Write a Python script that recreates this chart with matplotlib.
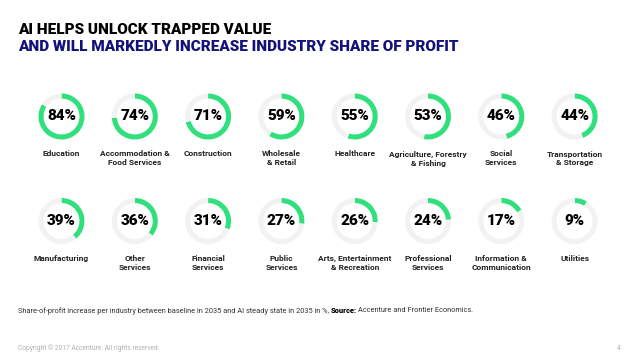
import matplotlib
matplotlib.use("Agg")
import matplotlib.pyplot as plt

industries = [
    "Education", "Accommodation &\nFood Services", "Construction", "Wholesale\n& Retail",
    "Healthcare", "Agriculture, Forestry\n& Fishing", "Social\nServices", "Transportation\n& Storage",
    "Manufacturing", "Other\nServices", "Financial\nServices", "Public\nServices",
    "Arts, Entertainment\n& Recreation", "Professional\nServices", "Information &\nCommunication", "Utilities",
]
profit_increase = [84, 74, 71, 59, 55, 53, 46, 44, 39, 36, 31, 27, 26, 24, 17, 9]

GREEN = "#2fe07c"
GREY = "#f2f2f2"
NAVY = "#14127a"

W, H = 638, 359
fig = plt.figure(figsize=(W / 100, H / 100), dpi=100)
fig.patch.set_facecolor("white")

# title
fig.text(18 / W, 1 - 30 / H, "AI HELPS UNLOCK TRAPPED VALUE", fontsize=11,
         fontweight="heavy", family="Roboto", color="black", va="center")
fig.text(18 / W, 1 - 47 / H, "AND WILL MARKEDLY INCREASE INDUSTRY SHARE OF PROFIT", fontsize=11,
         fontweight="heavy", family="Roboto", color=NAVY, va="center")

# donuts
col_x0, col_step = 61.5, 73.3
row_y = [116.5, 221]
label_y = [150.5, 255]
r = 23
for i, (name, v) in enumerate(zip(industries, profit_increase)):
    row, col = divmod(i, 8)
    cx = col_x0 + col * col_step
    cy = row_y[row]
    ax = fig.add_axes([(cx - r) / W, 1 - (cy + r) / H, 2 * r / W, 2 * r / H])
    ax.pie([v, 100 - v], colors=[GREEN, GREY], startangle=90, counterclock=False,
           radius=1, wedgeprops=dict(width=0.22, linewidth=0))
    ax.set_xlim(-1, 1)
    ax.set_ylim(-1, 1)
    ax.text(0, 0, f"{v}%", ha="center", va="center", fontsize=11,
            fontweight="heavy", family="Roboto", color="black")
    fig.text(cx / W, 1 - label_y[row] / H, name, ha="center", va="top", fontsize=6,
             fontweight="bold", family="Roboto", color="#222222", linespacing=1.3)

# footnote with bold "Source:"
fig.canvas.draw()
renderer = fig.canvas.get_renderer()
fy = 1 - 311 / H
t1 = fig.text(18 / W, fy, "Share-of-profit increase per industry between baseline in 2035 and AI steady state in 2035 in %, ",
              fontsize=5.3, family="Roboto", color="#333333", va="center")
x = t1.get_window_extent(renderer).x1
t2 = fig.text(x / W, fy, "Source:", fontsize=5.3, family="Roboto", fontweight="heavy",
              color="black", va="center")
x = t2.get_window_extent(renderer).x1
fig.text((x + 1) / W, fy, "Accenture and Frontier Economics.", fontsize=5.3, family="Roboto",
         color="#333333", va="center")

fig.text(18 / W, 1 - 348 / H, "Copyright \u00a9 2017 Accenture. All rights reserved.", fontsize=4.8,
         family="Roboto", color="#b0b0b0", va="center")
fig.text(617 / W, 1 - 348 / H, "4", fontsize=4.8, family="Roboto", color="#b0b0b0", va="center")

fig.savefig("out.png", dpi=100, facecolor="white")
